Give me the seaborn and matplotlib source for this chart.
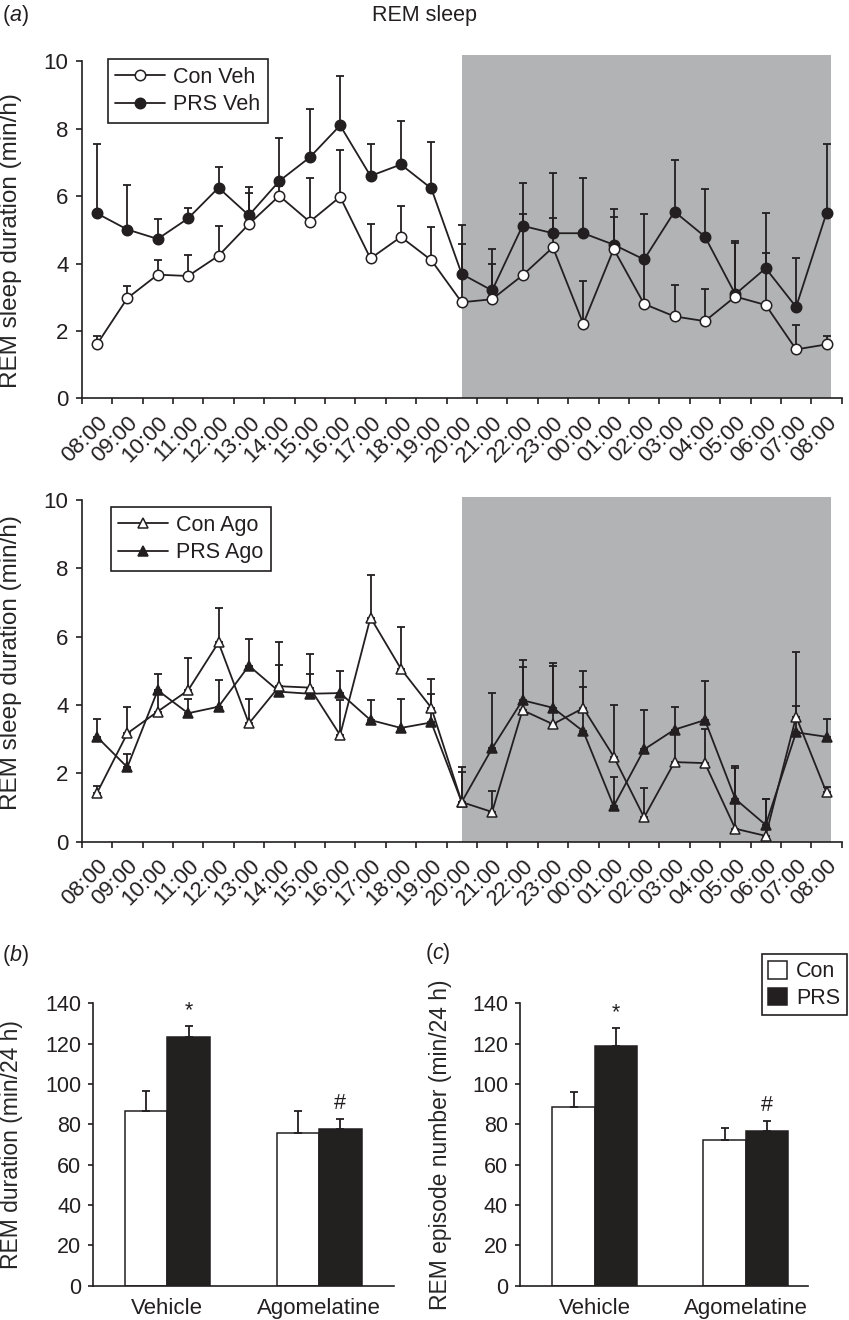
import numpy as np
import pandas as pd
import matplotlib
matplotlib.use("Agg")
import matplotlib.pyplot as plt
import matplotlib.transforms as mtransforms
import seaborn as sns
from matplotlib.patches import Patch

# ---- data ----
hours = ["08:00", "09:00", "10:00", "11:00", "12:00", "13:00", "14:00", "15:00",
         "16:00", "17:00", "18:00", "19:00", "20:00", "21:00", "22:00", "23:00",
         "00:00", "01:00", "02:00", "03:00", "04:00", "05:00", "06:00", "07:00", "08:00"]

con_veh = [1.60, 2.97, 3.67, 3.63, 4.23, 5.17, 6.01, 5.24, 5.98, 4.15, 4.79, 4.10, 2.85,
           2.94, 3.65, 4.48, 2.21, 4.43, 2.80, 2.43, 2.29, 3.02, 2.77, 1.45, 1.60]
con_veh_sem = [0.26, 0.35, 0.44, 0.61, 0.87, 0.91, 0.30, 1.31, 1.39, 1.02, 0.93, 0.98, 1.74,
               1.05, 1.81, 0.86, 1.28, 0.96, 1.35, 0.94, 0.94, 1.60, 1.53, 0.73, 0.24]
prs_veh = [5.49, 5.01, 4.73, 5.34, 6.25, 5.43, 6.45, 7.15, 8.10, 6.60, 6.94, 6.23, 3.69,
           3.20, 5.12, 4.90, 4.90, 4.56, 4.12, 5.54, 4.80, 3.09, 3.86, 2.71, 5.50]
prs_veh_sem = [2.05, 1.32, 0.58, 0.32, 0.61, 0.85, 1.28, 1.44, 1.46, 0.94, 1.29, 1.38, 1.44,
               1.23, 1.28, 1.80, 1.64, 1.05, 1.36, 1.52, 1.41, 1.58, 1.63, 1.46, 2.05]

con_ago = [1.42, 3.17, 3.81, 4.43, 5.83, 3.46, 4.55, 4.51, 3.12, 6.56, 5.06, 3.92, 1.16,
           0.87, 3.85, 3.44, 3.91, 2.49, 0.71, 2.33, 2.30, 0.38, 0.17, 3.66, 1.44]
con_ago_sem = [0.20, 0.78, 0.60, 0.95, 1.00, 0.73, 1.28, 0.98, 1.03, 1.24, 1.22, 0.83, 0.87,
               0.60, 1.26, 1.71, 0.62, 1.52, 0.87, 0.95, 1.00, 1.77, 1.09, 1.90, 0.16]
prs_ago = [3.07, 2.18, 4.43, 3.76, 3.95, 5.15, 4.39, 4.33, 4.35, 3.56, 3.33, 3.49, 1.16,
           2.73, 4.14, 3.92, 3.23, 1.04, 2.70, 3.28, 3.56, 1.25, 0.49, 3.20, 3.07]
prs_ago_sem = [0.52, 0.39, 0.49, 0.43, 0.78, 0.79, 0.78, 0.59, 0.66, 0.58, 0.84, 0.82, 1.04,
               1.61, 1.17, 1.32, 1.77, 0.85, 1.14, 0.66, 1.15, 0.96, 0.76, 0.78, 0.52]

groups = ["Vehicle", "Agomelatine"]
dur_con = [86.6, 75.9]
dur_con_sem = [9.9, 10.7]
dur_prs = [123.4, 77.5]
dur_prs_sem = [5.4, 5.1]
ep_con = [88.6, 72.4]
ep_con_sem = [7.3, 5.8]
ep_prs = [118.7, 76.5]
ep_prs_sem = [9.2, 5.2]

ink = "#231f20"
shade = "#b2b3b5"
fs = 15.5

sns.set_style("ticks")
plt.rcParams["font.family"] = ["Liberation Sans", "DejaVu Sans"]
plt.rcParams["mathtext.fontset"] = "custom"
plt.rcParams["mathtext.rm"] = "Liberation Sans"
plt.rcParams["mathtext.it"] = "Liberation Sans:italic"
plt.rcParams["text.color"] = ink
plt.rcParams["axes.edgecolor"] = ink
plt.rcParams["xtick.color"] = ink
plt.rcParams["ytick.color"] = ink
plt.rcParams["axes.linewidth"] = 1.2

fig = plt.figure(figsize=(8.49, 13.2), dpi=100)
W, H = 849, 1320


def px_axes(left, right, bottom, top):
    return fig.add_axes([left / W, 1 - bottom / H, (right - left) / W, (bottom - top) / H])


x = np.arange(len(hours))
shift = mtransforms.ScaledTranslation(6 / 72, 0, fig.dpi_scale_trans)


def time_panel(ax, series, ytop, anchor, ylab_y):
    ax.axvspan(12, 24.15, color=shade, lw=0, zorder=0)
    for mean, sem, label, marker, face, z in series:
        ax.errorbar(x, mean, yerr=[np.zeros(len(x)), sem], fmt="none", ecolor=ink,
                    elinewidth=1.3, capsize=2.6, capthick=1.3, zorder=2)
    for mean, sem, label, marker, face, z in series:
        sns.lineplot(x=x, y=mean, ax=ax, color=ink, marker=marker, markersize=7.5,
                     markerfacecolor=face, markeredgecolor=ink, markeredgewidth=1.1,
                     linewidth=1.3, label=label, zorder=z)
    ax.set_xlim(-0.5, 24.5)
    ax.set_ylim(0, ytop)
    ax.set_yticks(range(0, 11, 2))
    ax.spines[["top", "right"]].set_visible(False)
    ax.spines["left"].set_bounds(0, 10)
    ax.set_xticks(x)
    ax.set_xticklabels(hours, rotation=45, ha="right", rotation_mode="anchor", fontsize=16)
    for lab in ax.get_xticklabels():
        lab.set_transform(lab.get_transform() + shift)
    ax.set_xticks(np.arange(-0.5, 25, 1), minor=True)
    ax.tick_params(axis="x", which="major", length=0, pad=10)
    ax.tick_params(axis="x", which="minor", length=4.5, width=1.2, direction="out")
    ax.tick_params(axis="y", length=4.5, width=1.2, labelsize=16, pad=5)
    ax.set_xlabel("")
    ax.set_ylabel("REM sleep duration (min/h)", fontsize=17.5)
    ax.yaxis.set_label_coords(-0.079, ylab_y)
    leg = ax.legend(loc="upper left", bbox_to_anchor=anchor, borderaxespad=0, fontsize=fs,
                    frameon=True, fancybox=False, framealpha=1, edgecolor=ink,
                    handlelength=2.3, handletextpad=0.4, borderpad=0.35, labelspacing=0.3)
    leg.get_frame().set_linewidth(1.2)


ax1 = px_axes(81.7, 841.7, 398.3, 55)
time_panel(ax1, [(con_veh, con_veh_sem, "Con Veh", "o", "white", 4),
                 (prs_veh, prs_veh_sem, "PRS Veh", "o", ink, 3)], 10.19, (0.034, 0.9875), 0.46)

ax2 = px_axes(81.7, 841.7, 841.7, 496.6)
time_panel(ax2, [(con_ago, con_ago_sem, "Con Ago", "^", "white", 4),
                 (prs_ago, prs_ago_sem, "PRS Ago", "^", ink, 3)], 10.1, (0.038, 0.969), 0.52)


def bar_panel(ax, con, con_sem, prs, prs_sem, xlim, ylabel):
    df = pd.DataFrame({"group": groups * 2,
                       "cond": ["Con"] * len(groups) + ["PRS"] * len(groups),
                       "value": con + prs})
    sns.barplot(data=df, x="group", y="value", hue="cond",
                palette={"Con": "white", "PRS": ink}, edgecolor=ink, linewidth=1.1,
                width=0.56, errorbar=None, legend=False, ax=ax, zorder=2)
    sems = con_sem + prs_sem
    for p, s in zip(ax.patches, sems):
        cx = p.get_x() + p.get_width() / 2
        ax.errorbar([cx], [p.get_height()], yerr=[[0], [s]], fmt="none", ecolor=ink,
                    elinewidth=1.3, capsize=2.6, capthick=1.3, zorder=3)
    prs_bars = ax.patches[len(groups):]
    for p, s, mark in zip(prs_bars, prs_sem, ["*", "#"]):
        ax.text(p.get_x() + p.get_width() / 2, p.get_height() + s + 7.5, mark,
                ha="center", va="center", fontsize=fs)
    ax.set_xlim(*xlim)
    ax.set_ylim(0, 140)
    ax.set_yticks(range(0, 141, 20))
    ax.spines[["top", "right"]].set_visible(False)
    ax.tick_params(axis="x", length=0, labelsize=16, pad=9)
    ax.tick_params(axis="y", length=3.6, width=1.2, labelsize=15.5, pad=5)
    ax.set_xlabel("")
    ax.set_ylabel(ylabel, fontsize=16.5)


ax3 = px_axes(93.3, 394.3, 1285.7, 1003.3)
bar_panel(ax3, dur_con, dur_con_sem, dur_prs, dur_prs_sem, (-0.488, 1.496),
          "REM duration (min/24 h)")
ax3.yaxis.set_label_coords(-0.234, 0.5)

ax4 = px_axes(520, 808.3, 1285.7, 1003.3)
bar_panel(ax4, ep_con, ep_con_sem, ep_prs, ep_prs_sem, (-0.495, 1.415),
          "REM episode number (min/24 h)")
ax4.yaxis.set_label_coords(-0.236, 0.5)
handles = [Patch(facecolor="white", edgecolor=ink, linewidth=1.1, label="Con"),
           Patch(facecolor=ink, edgecolor=ink, linewidth=1.1, label="PRS")]
leg = ax4.legend(handles=handles, loc="upper right", bbox_to_anchor=(1.133, 1.1735),
                 borderaxespad=0, fontsize=fs, frameon=True, fancybox=False, framealpha=1,
                 edgecolor=ink, handlelength=0.9, handleheight=0.9, handletextpad=0.4,
                 borderpad=0.3, labelspacing=0.25)
leg.get_frame().set_linewidth(1.2)

fig.text(2 / W, 1 - 15 / H, "($\\mathit{a}$)", fontsize=fs, ha="left", va="center")
fig.text(425 / W, 1 - 15 / H, "REM sleep", fontsize=fs, ha="center", va="center")
fig.text(2 / W, 1 - 955 / H, "($\\mathit{b}$)", fontsize=fs, ha="left", va="center")
fig.text(425 / W, 1 - 954 / H, "($\\mathit{c}$)", fontsize=fs, ha="left", va="center")

fig.savefig("out.png", dpi=100)
